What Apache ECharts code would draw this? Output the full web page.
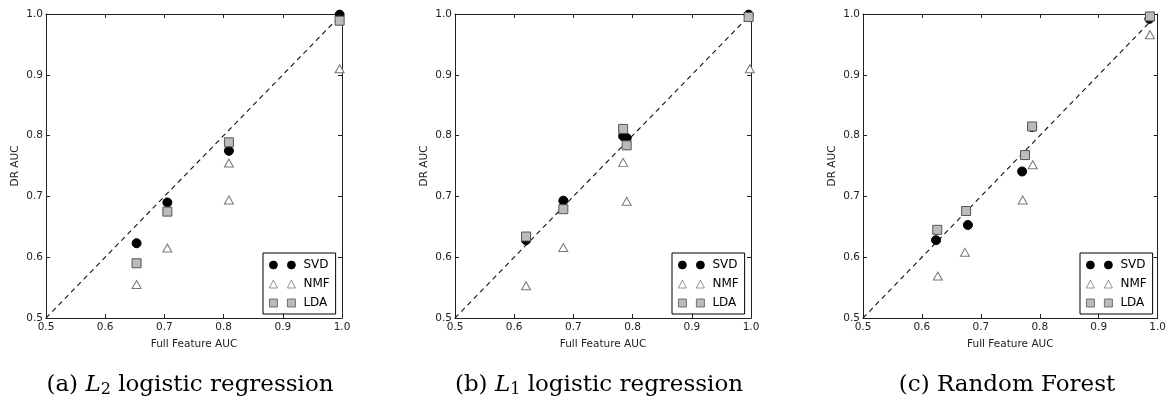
<!DOCTYPE html>
<html>
<head>
<meta charset="utf-8">
<script src="https://cdn.jsdelivr.net/npm/echarts@6/dist/echarts.min.js"></script>
<style>
  html, body { margin: 0; padding: 0; background: #fff; }
  #chart { width: 1169px; height: 402px; }
</style>
</head>
<body>
<div id="chart"></div>
<script>
// values: [full feature AUC, DR AUC]
const svdA = [[0.653, 0.623], [0.705, 0.690], [0.809, 0.775], [0.996, 0.999]];
const nmfA = [[0.653, 0.555], [0.705, 0.615], [0.809, 0.755], [0.809, 0.694], [0.996, 0.910]];
const ldaA = [[0.653, 0.590], [0.705, 0.675], [0.809, 0.789], [0.996, 0.989]];

const svdB = [[0.620, 0.628], [0.683, 0.693], [0.784, 0.799], [0.790, 0.796], [0.996, 0.999]];
const nmfB = [[0.620, 0.553], [0.683, 0.616], [0.784, 0.756], [0.790, 0.692], [0.998, 0.910]];
const ldaB = [[0.620, 0.634], [0.683, 0.679], [0.784, 0.811], [0.790, 0.784], [0.996, 0.995]];

const svdC = [[0.624, 0.628], [0.678, 0.653], [0.770, 0.741], [0.787, 0.814], [0.986, 0.992]];
const nmfC = [[0.627, 0.569], [0.673, 0.608], [0.771, 0.694], [0.788, 0.752], [0.987, 0.966]];
const ldaC = [[0.626, 0.645], [0.675, 0.676], [0.775, 0.768], [0.787, 0.815], [0.987, 0.996]];

const diagonal = [[0.5, 0.5], [1.0, 1.0]];
const methods = ["SVD", "NMF", "LDA"];
const panels = [
  { svd: svdA, nmf: nmfA, lda: ldaA, caption: "(a) {i|L}{sub|2} logistic regression" },
  { svd: svdB, nmf: nmfB, lda: ldaB, caption: "(b) {i|L}{sub|1} logistic regression" },
  { svd: svdC, nmf: nmfC, lda: ldaC, caption: "(c) Random Forest" },
];

const lefts = [46, 455, 863];
const plotW = 296, plotH = 304, plotTop = 14;
const font = "DejaVu Sans";
const serif = "DejaVu Serif";

const styles = {
  SVD: { symbol: "circle", size: 9, itemStyle: { color: "#000", borderColor: "#000", borderWidth: 1, opacity: 1 },
         icon: "path://M0,4 A4,4 0 1,1 8,4 A4,4 0 1,1 0,4 Z M18,4 A4,4 0 1,1 26,4 A4,4 0 1,1 18,4 Z" },
  NMF: { symbol: "triangle", size: [9, 8], itemStyle: { color: "#fff", borderColor: "#777", borderWidth: 1, opacity: 1 },
         icon: "path://M4,0 L8,8 L0,8 Z M22,0 L26,8 L18,8 Z" },
  LDA: { symbol: "rect", size: 9, itemStyle: { color: "#bbb", borderColor: "#555", borderWidth: 1, opacity: 1 },
         icon: "path://M0,0 L8,0 L8,8 L0,8 Z M18,0 L26,0 L26,8 L18,8 Z" },
};

const grid = [], xAxis = [], yAxis = [], series = [], legend = [], graphic = [];

const frameLine = { show: true, lineStyle: { color: "#222", width: 1 } };
const tick = { show: true, inside: true, length: 4, lineStyle: { color: "#222" } };

panels.forEach((p, i) => {
  const left = lefts[i];
  grid.push({ left: left, top: plotTop, width: plotW, height: plotH });

  xAxis.push({
    gridIndex: i, type: "value", min: 0.5, max: 1.0, interval: 0.1, position: "bottom",
    name: "Full Feature AUC", nameLocation: "middle", nameGap: 21,
    nameTextStyle: { fontFamily: font, fontSize: 10.5, color: "#222" },
    axisLine: frameLine, axisTick: tick, splitLine: { show: false },
    axisLabel: { margin: 4, fontFamily: font, fontSize: 10.5, color: "#222",
                 formatter: (v) => v.toFixed(1) },
  });
  xAxis.push({
    gridIndex: i, type: "value", min: 0.5, max: 1.0, interval: 0.1, position: "top",
    axisLine: frameLine, axisTick: tick, axisLabel: { show: false }, splitLine: { show: false },
  });
  yAxis.push({
    gridIndex: i, type: "value", min: 0.5, max: 1.0, interval: 0.1, position: "left",
    name: "DR AUC", nameLocation: "middle", nameGap: 25,
    nameTextStyle: { fontFamily: font, fontSize: 10.5, color: "#222" },
    axisLine: frameLine, axisTick: tick, splitLine: { show: false },
    axisLabel: { margin: 3, fontFamily: font, fontSize: 10.5, color: "#222",
                 formatter: (v) => v.toFixed(1) },
  });
  yAxis.push({
    gridIndex: i, type: "value", min: 0.5, max: 1.0, interval: 0.1, position: "right",
    axisLine: frameLine, axisTick: tick, axisLabel: { show: false }, splitLine: { show: false },
  });

  series.push({
    type: "line", xAxisIndex: 2 * i, yAxisIndex: 2 * i, data: diagonal,
    symbol: "none", silent: true, z: 1,
    lineStyle: { color: "#111", width: 1.1, type: [5, 4] },
  });

  const sets = { SVD: p.svd, NMF: p.nmf, LDA: p.lda };
  methods.forEach((m, k) => {
    const s = styles[m];
    series.push({
      name: m, type: "scatter", xAxisIndex: 2 * i, yAxisIndex: 2 * i,
      data: sets[m], symbol: s.symbol, symbolSize: s.size, itemStyle: s.itemStyle,
      z: 3 + k,
    });
  });

  legend.push({
    orient: "vertical", left: left + 217, top: 253,
    padding: [6, 6, 5, 6], itemGap: 7, itemWidth: 26, itemHeight: 8,
    borderColor: "#000", borderWidth: 1, backgroundColor: "#fff", borderRadius: 0,
    selectedMode: false,
    itemStyle: { borderWidth: 0.8 },
    textStyle: { fontFamily: font, fontSize: 12, color: "#000", padding: [0, 0, 0, 3] },
    data: methods.map((m) => ({ name: m, icon: styles[m].icon })),
  });

  graphic.push({
    type: "text", x: left + 144, y: 385,
    style: {
      text: p.caption, x: 0, y: 0, align: "center", verticalAlign: "middle",
      font: "23px '" + serif + "'", fill: "#000",
      rich: {
        i: { fontFamily: serif, fontSize: 23, fontStyle: "italic" },
        sub: { fontFamily: serif, fontSize: 16, padding: [10, 0, 0, 0] },
      },
    },
  });
});

const chart = echarts.init(document.getElementById("chart"), null, { renderer: "canvas" });
chart.setOption({
  animation: false,
  backgroundColor: "#fff",
  grid, xAxis, yAxis, series, legend, graphic,
});
</script>
</body>
</html>
